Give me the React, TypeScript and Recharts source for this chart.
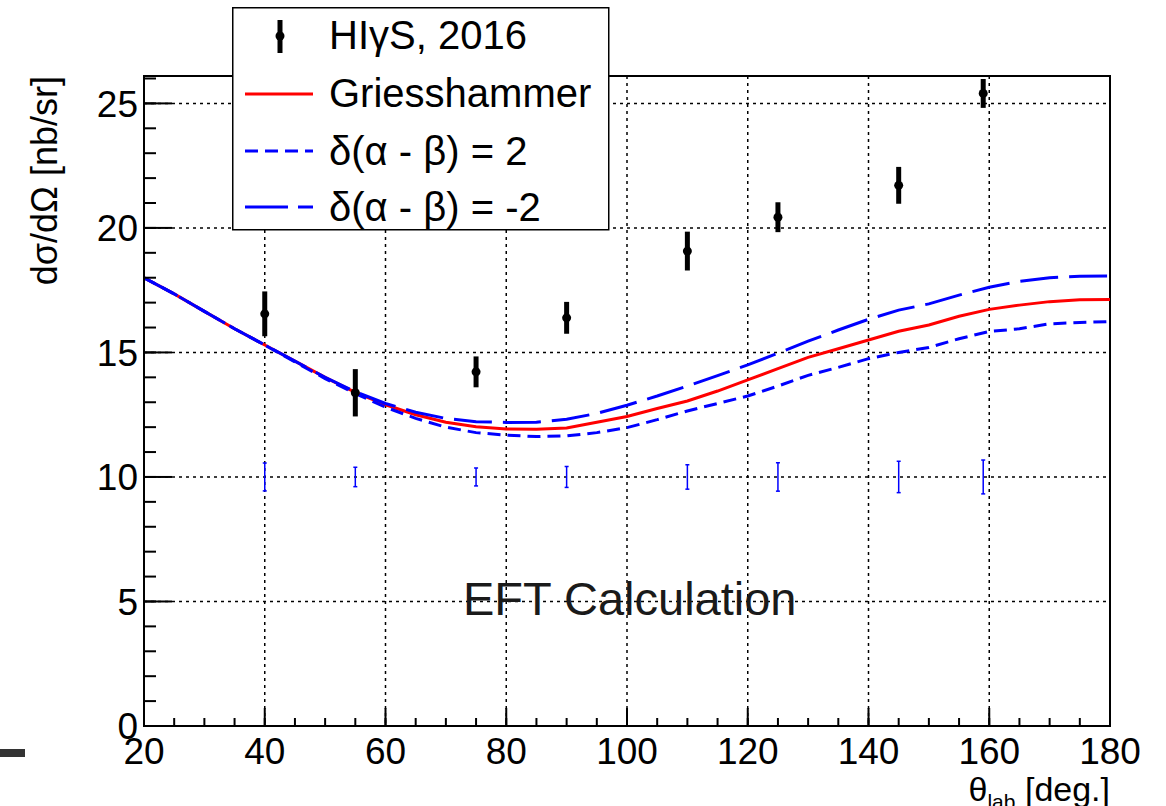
import React from 'react';
import {
  ComposedChart,
  Line,
  Scatter,
  ErrorBar,
  XAxis,
  YAxis,
  CartesianGrid,
  ReferenceArea,
} from 'recharts';

// theory curves, sampled every 5 degrees
const thetaGrid = [
  20, 25, 30, 35, 40, 45, 50, 55, 60, 65, 70, 75, 80, 85, 90, 95, 100,
  105, 110, 115, 120, 125, 130, 135, 140, 145, 150, 155, 160, 165, 170, 175, 180,
];
const griesshammer = [
  18.0, 17.35, 16.65, 15.95, 15.3, 14.65, 14.0, 13.4, 12.9, 12.5, 12.2, 12.02, 11.93,
  11.92, 11.97, 12.2, 12.43, 12.75, 13.05, 13.45, 13.9, 14.35, 14.8, 15.15, 15.5,
  15.85, 16.1, 16.45, 16.73, 16.9, 17.04, 17.12, 17.13,
];
const deltaPlus2 = [
  18.0, 17.35, 16.65, 15.95, 15.3, 14.62, 13.95, 13.35, 12.8, 12.35, 12.0, 11.78, 11.68,
  11.62, 11.65, 11.78, 11.98, 12.3, 12.65, 12.95, 13.25, 13.65, 14.08, 14.4, 14.75,
  15.0, 15.2, 15.55, 15.84, 15.95, 16.15, 16.2, 16.24,
];
const deltaMinus2 = [
  18.0, 17.35, 16.65, 15.95, 15.3, 14.65, 14.0, 13.42, 12.95, 12.6, 12.35, 12.22, 12.19,
  12.2, 12.32, 12.55, 12.88, 13.25, 13.65, 14.07, 14.5, 14.97, 15.45, 15.9, 16.33,
  16.7, 16.95, 17.3, 17.62, 17.85, 18.0, 18.06, 18.07,
];

// HIgS 2016 measurement
const hgsTheta = [40, 55, 75, 90, 110, 125, 145, 159];
const hgsValue = [16.55, 13.38, 14.22, 16.39, 19.07, 20.43, 21.71, 25.4];
const hgsStatErr = [0.9, 0.95, 0.62, 0.64, 0.78, 0.6, 0.74, 0.58];
const hgsSysErr = [0.56, 0.39, 0.36, 0.42, 0.49, 0.57, 0.63, 0.68];
const sysBarLevel = 10;

const xMajorTicks = [20, 40, 60, 80, 100, 120, 140, 160, 180];
const xMinorTicks = Array.from({ length: 33 }, (_, i) => 20 + i * 5);
const yMajorTicks = [0, 5, 10, 15, 20, 25];
const yMinorTicks = Array.from({ length: 27 }, (_, i) => i);

const FONT = "'Liberation Sans', Arial, Helvetica, sans-serif";
const RED = '#ff0000';
const BLUE = '#0000ff';
const SHORT_DASH = '13 7';
const LONG_DASH = '38 11';

const curveData = thetaGrid.map((theta, i) => ({
  theta,
  griesshammer: griesshammer[i],
  plus2: deltaPlus2[i],
  minus2: deltaMinus2[i],
}));

const hgsData = hgsTheta.map((theta, i) => ({
  theta,
  value: hgsValue[i],
  err: hgsStatErr[i],
}));

const sysData = hgsTheta.map((theta, i) => ({
  theta,
  value: sysBarLevel,
  err: hgsSysErr[i],
}));

const tickStyle = { fontSize: 37, fill: '#000', fontFamily: FONT };
const tickLineStyle = { stroke: '#000', strokeWidth: 2 };

const DataDot = (props: any) => <circle cx={props.cx} cy={props.cy} r={4.5} fill="#000" />;
const NoDot = () => <g />;
// minor axes: keep the tick marks, drop the labels
const BlankTick = () => <g />;

export default function App() {
  return (
    <div style={{ position: 'absolute', left: 0, top: 0, width: 1166, height: 806, background: '#fff' }}>
      <ComposedChart
        width={1166}
        height={806}
        data={curveData}
        margin={{ top: 76, right: 56, bottom: 78, left: 142 }}
      >
        <CartesianGrid stroke="#000" strokeWidth={1.5} strokeDasharray="3 4" />
        <XAxis
          xAxisId="minor"
          dataKey="theta"
          type="number"
          domain={[20, 180]}
          ticks={xMinorTicks}
          interval={0}
          height={1}
          allowDataOverflow
          tickSize={-9}
          tick={BlankTick}
          tickLine={tickLineStyle}
          axisLine={false}
        />
        <XAxis
          dataKey="theta"
          type="number"
          domain={[20, 180]}
          ticks={xMajorTicks}
          interval={0}
          height={1}
          allowDataOverflow
          tickSize={-18}
          tickMargin={30}
          tick={tickStyle}
          tickLine={tickLineStyle}
          axisLine={{ stroke: '#000', strokeWidth: 2 }}
        />
        <YAxis
          yAxisId="minor"
          type="number"
          domain={[0, 26.1]}
          ticks={yMinorTicks}
          interval={0}
          width={1}
          allowDataOverflow
          tickSize={-13}
          tick={BlankTick}
          tickLine={tickLineStyle}
          axisLine={false}
        />
        <YAxis
          type="number"
          domain={[0, 26.1]}
          ticks={yMajorTicks}
          interval={0}
          width={1}
          allowDataOverflow
          tickSize={-28}
          tickMargin={34}
          tick={tickStyle}
          tickLine={tickLineStyle}
          axisLine={{ stroke: '#000', strokeWidth: 2 }}
        />
        <ReferenceArea
          x1={20}
          x2={180}
          y1={0}
          y2={26.1}
          fill="none"
          stroke="#000"
          strokeWidth={2}
          ifOverflow="visible"
        />
        <Line
          dataKey="griesshammer"
          type="linear"
          stroke={RED}
          strokeWidth={3}
          dot={false}
          isAnimationActive={false}
        />
        <Line
          dataKey="plus2"
          type="linear"
          stroke={BLUE}
          strokeWidth={3}
          strokeDasharray={SHORT_DASH}
          dot={false}
          isAnimationActive={false}
        />
        <Line
          dataKey="minus2"
          type="linear"
          stroke={BLUE}
          strokeWidth={3}
          strokeDasharray={LONG_DASH}
          dot={false}
          isAnimationActive={false}
        />
        <Scatter data={sysData} dataKey="value" shape={NoDot} isAnimationActive={false}>
          <ErrorBar dataKey="err" direction="y" width={2} stroke={BLUE} strokeWidth={1.5} isAnimationActive={false} />
        </Scatter>
        <Scatter data={hgsData} dataKey="value" shape={DataDot} isAnimationActive={false}>
          <ErrorBar dataKey="err" direction="y" width={0} stroke="#000" strokeWidth={5} isAnimationActive={false} />
        </Scatter>
      </ComposedChart>

      <svg
        width={1166}
        height={806}
        style={{ position: 'absolute', left: 0, top: 0, pointerEvents: 'none' }}
        fontFamily={FONT}
      >
        {/* legend box */}
        <rect x={232.75} y={7.75} width={376} height={222} fill="#fff" stroke="#000" strokeWidth={1.5} />
        <line x1={280} y1={20} x2={280} y2={53} stroke="#000" strokeWidth={5} />
        <circle cx={280} cy={36} r={4.5} fill="#000" />
        <text x={329} y={49} fontSize={40} fill="#000">HIγS, 2016</text>
        <line x1={245} y1={94} x2={313} y2={94} stroke={RED} strokeWidth={3} />
        <text x={329} y={107} fontSize={40} fill="#000">Griesshammer</text>
        <line x1={245} y1={151} x2={313} y2={151} stroke={BLUE} strokeWidth={3} strokeDasharray={SHORT_DASH} />
        <text x={329} y={165} fontSize={40} fill="#000">δ(α - β) = 2</text>
        <line x1={245} y1={207} x2={313} y2={207} stroke={BLUE} strokeWidth={3} strokeDasharray={'43 10'} />
        <text x={329} y={221} fontSize={40} fill="#000">δ(α - β) = -2</text>

        {/* axis titles */}
        <text transform="translate(57,76) rotate(-90)" textAnchor="end" fontSize={36} fill="#000">
          dσ/dΩ [nb/sr]
        </text>
        <text x={1110} y={801} textAnchor="end" fontSize={34} fill="#000">
          θ<tspan fontSize={21} dy={8}>lab</tspan>
          <tspan dy={-8}> [deg.]</tspan>
        </text>

        <text x={463} y={615} fontSize={47} fill="#1a1a1a">EFT Calculation</text>
        <rect x={0} y={749} width={25} height={8} fill="#333" />
      </svg>
    </div>
  );
}
